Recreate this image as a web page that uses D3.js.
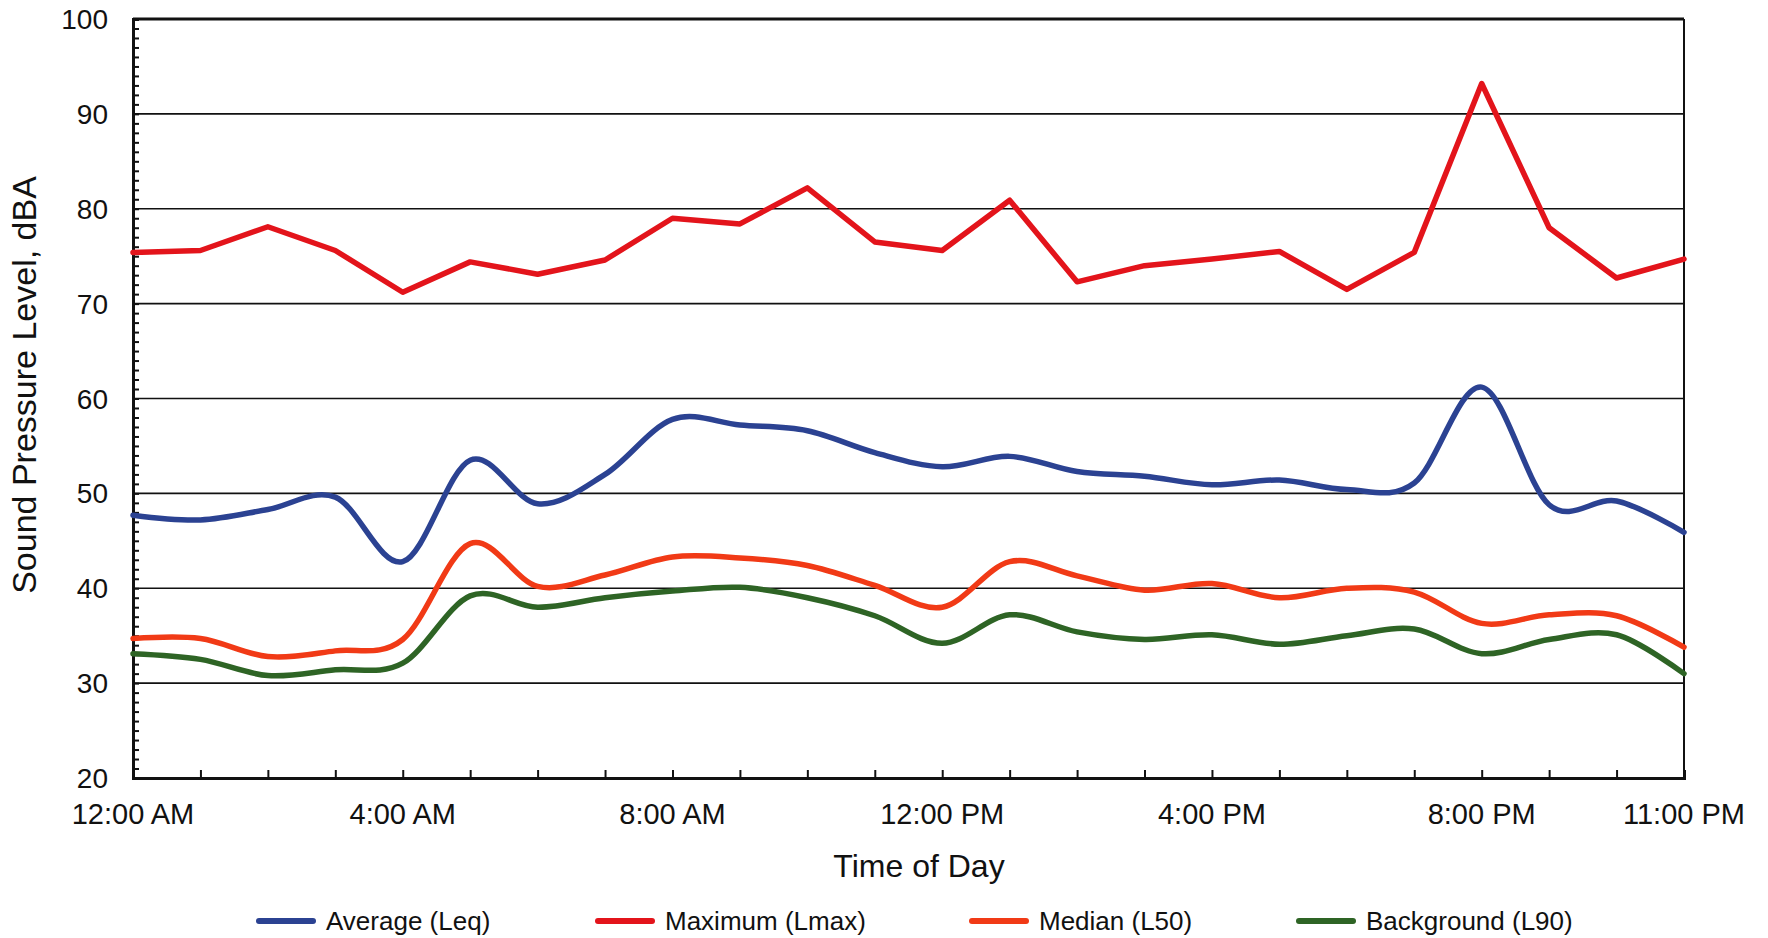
<html>
<script src="https://d3js.org/d3.v7.min.js"></script>
<style>
  body { margin: 0; background: #fff; }
  svg { font-family: "Liberation Sans", Arial, sans-serif; }
  .grid line { stroke: #111; stroke-width: 1.6px; }
  .series { fill: none; stroke-linejoin: round; stroke-linecap: round; }
  .tick-label { font-size: 28px; fill: #111; }
  .x-label { font-size: 29px; fill: #111; }
</style>
<svg width=1768 height=938></svg>
<script>
  // hourly readings, 12:00 AM .. 11:00 PM
  const hours = [0, 1, 2, 3, 4, 5, 6, 7, 8, 9, 10, 11, 12, 13, 14, 15, 16, 17, 18, 19, 20, 21, 22, 23];
  const hourLabels = [[0, '12:00 AM'], [4, '4:00 AM'], [8, '8:00 AM'], [12, '12:00 PM'], [16, '4:00 PM'], [20, '8:00 PM'], [23, '11:00 PM']];
  const yTicks = [20, 30, 40, 50, 60, 70, 80, 90, 100];

  const leq  = [47.7, 47.2, 48.3, 49.6, 42.8, 53.5, 48.9, 52.0, 57.8, 57.2, 56.6, 54.3, 52.8, 53.9, 52.3, 51.8, 50.9, 51.4, 50.4, 51.1, 61.2, 48.8, 49.2, 45.9];
  const lmax = [75.4, 75.6, 78.1, 75.6, 71.2, 74.4, 73.1, 74.6, 79.0, 78.4, 82.2, 76.5, 75.6, 80.9, 72.3, 74.0, 74.7, 75.5, 71.5, 75.4, 93.2, 78.0, 72.7, 74.7];
  const l50  = [34.7, 34.7, 32.8, 33.4, 34.6, 44.7, 40.2, 41.4, 43.3, 43.2, 42.4, 40.3, 38.0, 42.8, 41.3, 39.8, 40.5, 39.0, 40.0, 39.6, 36.3, 37.2, 37.1, 33.8];
  const l90  = [33.1, 32.5, 30.8, 31.4, 32.1, 39.2, 38.0, 39.0, 39.7, 40.1, 39.0, 37.1, 34.2, 37.2, 35.4, 34.6, 35.1, 34.1, 35.0, 35.7, 33.1, 34.6, 35.1, 31.0];

  const seriesNames = ['Average (Leq)', 'Maximum (Lmax)', 'Median (L50)', 'Background (L90)'];
  const seriesColors = ['#2b4292', '#e3141b', '#f13a16', '#2e6425'];

  let svg = d3.select('svg'),
      plotLeft = 133, plotRight = 1684, plotTop = 19, plotBottom = 778;

  let x = d3.scaleLinear().domain([0, 23]).range([plotLeft, plotRight]);
  let y = d3.scaleLinear().domain([20, 100]).range([plotBottom, plotTop]);

  // gridlines
  svg.append('g').attr('class', 'grid')
    .selectAll('line')
    .data(yTicks.filter(d => d > 20 && d < 100))
    .enter().append('line')
      .attr('x1', plotLeft).attr('x2', plotRight)
      .attr('y1', d => y(d)).attr('y2', d => y(d));

  // frame
  svg.append('line').attr('x1', plotLeft).attr('x2', plotRight).attr('y1', plotTop).attr('y2', plotTop)
    .attr('stroke', '#111').attr('stroke-width', 3);
  svg.append('line').attr('x1', plotRight).attr('x2', plotRight).attr('y1', plotTop).attr('y2', plotBottom)
    .attr('stroke', '#111').attr('stroke-width', 2);

  // left axis with minor ticks inside
  let yAxis = svg.append('g').attr('transform', 'translate(' + plotLeft + ',0)')
    .call(d3.axisRight(y).ticks(80).tickSize(6).tickFormat(''));
  yAxis.select('.domain').attr('stroke', '#111').attr('stroke-width', 3);
  yAxis.selectAll('.tick line').attr('stroke', '#111').attr('stroke-width', 2);

  svg.append('g').selectAll('text')
    .data(yTicks)
    .enter().append('text')
      .attr('class', 'tick-label')
      .attr('x', plotLeft - 25)
      .attr('y', d => y(d))
      .attr('dy', '0.36em')
      .attr('text-anchor', 'end')
      .text(d => d);

  // bottom axis, hourly ticks pointing up
  let xAxis = svg.append('g').attr('transform', 'translate(0,' + plotBottom + ')')
    .call(d3.axisTop(x).tickValues(hours).tickSize(8).tickFormat(''));
  xAxis.select('.domain').attr('stroke', '#111').attr('stroke-width', 3);
  xAxis.selectAll('.tick line').attr('stroke', '#111').attr('stroke-width', 2);

  svg.append('g').selectAll('text')
    .data(hourLabels)
    .enter().append('text')
      .attr('class', 'x-label')
      .attr('x', d => x(d[0]))
      .attr('y', plotBottom + 46)
      .attr('text-anchor', 'middle')
      .text(d => d[1]);

  // axis titles
  svg.append('text')
    .attr('x', 919).attr('y', 877)
    .attr('text-anchor', 'middle')
    .style('font-size', '32px').attr('fill', '#111')
    .text('Time of Day');

  svg.append('text')
    .attr('transform', 'translate(36,385) rotate(-90)')
    .attr('text-anchor', 'middle')
    .style('font-size', '34px').attr('fill', '#111')
    .text('Sound Pressure Level, dBA');

  // series
  let smooth = d3.line().x((d, i) => x(hours[i])).y(d => y(d)).curve(d3.curveCardinal.tension(0));
  let straight = d3.line().x((d, i) => x(hours[i])).y(d => y(d));

  let allSeries = [
    { data: l90, color: seriesColors[3], gen: smooth },
    { data: l50, color: seriesColors[2], gen: smooth },
    { data: leq, color: seriesColors[0], gen: smooth },
    { data: lmax, color: seriesColors[1], gen: straight }
  ];

  svg.append('g').selectAll('path')
    .data(allSeries)
    .enter().append('path')
      .attr('class', 'series')
      .attr('stroke', d => d.color)
      .attr('stroke-width', 5.5)
      .attr('d', d => d.gen(d.data));

  // legend
  let legendX = [259, 598, 972, 1299];
  let legend = svg.append('g').selectAll('g')
    .data(seriesNames)
    .enter().append('g')
      .attr('transform', (d, i) => 'translate(' + legendX[i] + ',921)');

  legend.append('line')
    .attr('x1', 0).attr('x2', 54).attr('y1', 0).attr('y2', 0)
    .attr('stroke', (d, i) => seriesColors[i])
    .attr('stroke-width', 6)
    .attr('stroke-linecap', 'round');

  legend.append('text')
    .attr('x', 67).attr('dy', '0.36em')
    .style('font-size', '26px').attr('fill', '#111')
    .text(d => d);
</script>
</html>
